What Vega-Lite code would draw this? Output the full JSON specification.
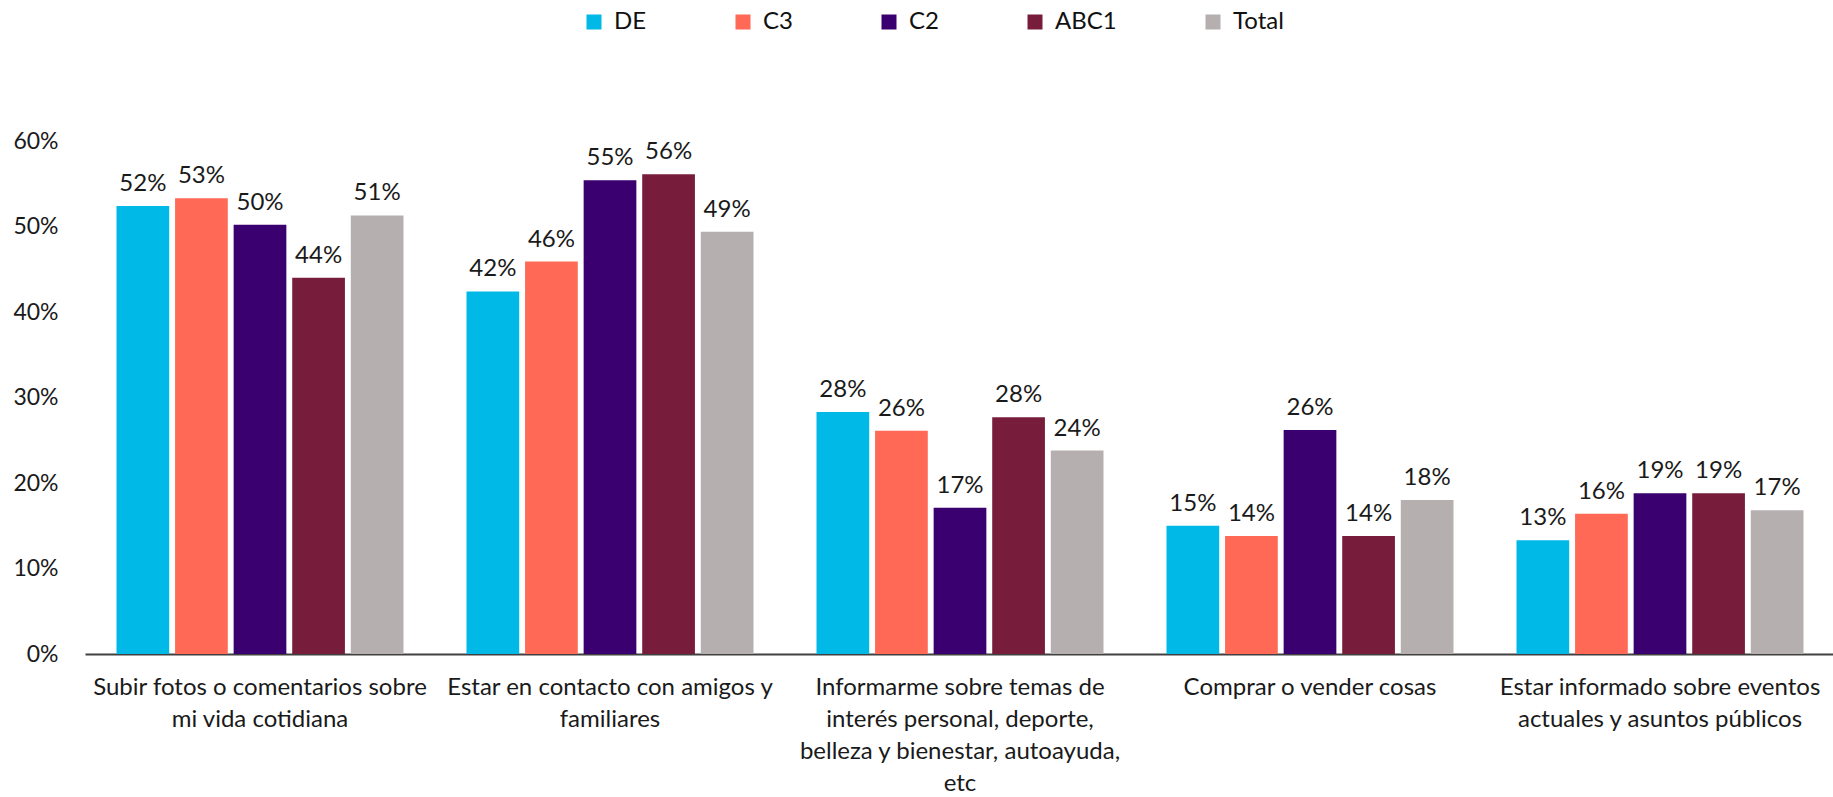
{
  "$schema": "https://vega.github.io/schema/vega-lite/v6.json",
  "width": 1750,
  "height": 513,
  "autosize": {"type": "none"},
  "padding": {"left": 85, "top": 141, "right": 0, "bottom": 143},
  "config": {"view": {"stroke": null}, "font": "Lato"},
  "data": {
    "values": [
      {"cat": "Subir fotos o comentarios sobre\nmi vida cotidiana", "grupo": "DE", "valor": 0.524},
      {"cat": "Subir fotos o comentarios sobre\nmi vida cotidiana", "grupo": "C3", "valor": 0.533},
      {"cat": "Subir fotos o comentarios sobre\nmi vida cotidiana", "grupo": "C2", "valor": 0.502},
      {"cat": "Subir fotos o comentarios sobre\nmi vida cotidiana", "grupo": "ABC1", "valor": 0.440},
      {"cat": "Subir fotos o comentarios sobre\nmi vida cotidiana", "grupo": "Total", "valor": 0.513},
      {"cat": "Estar en contacto con amigos y\nfamiliares", "grupo": "DE", "valor": 0.424},
      {"cat": "Estar en contacto con amigos y\nfamiliares", "grupo": "C3", "valor": 0.459},
      {"cat": "Estar en contacto con amigos y\nfamiliares", "grupo": "C2", "valor": 0.554},
      {"cat": "Estar en contacto con amigos y\nfamiliares", "grupo": "ABC1", "valor": 0.561},
      {"cat": "Estar en contacto con amigos y\nfamiliares", "grupo": "Total", "valor": 0.494},
      {"cat": "Informarme sobre temas de\ninterés personal, deporte,\nbelleza y bienestar, autoayuda,\netc", "grupo": "DE", "valor": 0.283},
      {"cat": "Informarme sobre temas de\ninterés personal, deporte,\nbelleza y bienestar, autoayuda,\netc", "grupo": "C3", "valor": 0.261},
      {"cat": "Informarme sobre temas de\ninterés personal, deporte,\nbelleza y bienestar, autoayuda,\netc", "grupo": "C2", "valor": 0.171},
      {"cat": "Informarme sobre temas de\ninterés personal, deporte,\nbelleza y bienestar, autoayuda,\netc", "grupo": "ABC1", "valor": 0.277},
      {"cat": "Informarme sobre temas de\ninterés personal, deporte,\nbelleza y bienestar, autoayuda,\netc", "grupo": "Total", "valor": 0.238},
      {"cat": "Comprar o vender cosas", "grupo": "DE", "valor": 0.150},
      {"cat": "Comprar o vender cosas", "grupo": "C3", "valor": 0.138},
      {"cat": "Comprar o vender cosas", "grupo": "C2", "valor": 0.262},
      {"cat": "Comprar o vender cosas", "grupo": "ABC1", "valor": 0.138},
      {"cat": "Comprar o vender cosas", "grupo": "Total", "valor": 0.180},
      {"cat": "Estar informado sobre eventos\nactuales y asuntos públicos", "grupo": "DE", "valor": 0.133},
      {"cat": "Estar informado sobre eventos\nactuales y asuntos públicos", "grupo": "C3", "valor": 0.164},
      {"cat": "Estar informado sobre eventos\nactuales y asuntos públicos", "grupo": "C2", "valor": 0.188},
      {"cat": "Estar informado sobre eventos\nactuales y asuntos públicos", "grupo": "ABC1", "valor": 0.188},
      {"cat": "Estar informado sobre eventos\nactuales y asuntos públicos", "grupo": "Total", "valor": 0.168}
    ]
  },
  "encoding": {
    "x": {
      "field": "cat",
      "type": "nominal",
      "sort": null,
      "scale": {"paddingInner": 0.18, "paddingOuter": 0.09},
      "axis": {
        "title": null,
        "labelAngle": 0,
        "ticks": false,
        "domainColor": "#404040",
        "domainWidth": 2,
        "labelFontSize": 24,
        "labelLineHeight": 32,
        "labelPadding": 21,
        "labelBaseline": "top",
        "labelAlign": "center",
        "labelColor": "#1a1a1a",
        "labelExpr": "split(datum.label, '\\n')",
        "labelOverlap": false,
        "labelBound": false,
        "labelLimit": 500
      }
    },
    "xOffset": {
      "field": "grupo",
      "type": "nominal",
      "sort": ["DE", "C3", "C2", "ABC1", "Total"],
      "scale": {"paddingInner": 0.1, "paddingOuter": 0}
    },
    "y": {
      "field": "valor",
      "type": "quantitative",
      "scale": {"domain": [0, 0.6]},
      "axis": {
        "title": null,
        "format": ".0%",
        "values": [0, 0.1, 0.2, 0.3, 0.4, 0.5, 0.6],
        "grid": false,
        "domain": false,
        "ticks": false,
        "labelFontSize": 23,
        "labelPadding": 27,
        "labelColor": "#1a1a1a"
      }
    }
  },
  "layer": [
    {
      "mark": {"type": "bar"},
      "encoding": {
        "color": {
          "field": "grupo",
          "type": "nominal",
          "sort": ["DE", "C3", "C2", "ABC1", "Total"],
          "scale": {
            "domain": ["DE", "C3", "C2", "ABC1", "Total"],
            "range": ["#00B9E6", "#FF6955", "#3A0070", "#771D3B", "#B5AFB0"]
          },
          "legend": {
            "title": null,
            "orient": "none",
            "legendX": 497,
            "legendY": -131,
            "direction": "horizontal",
            "symbolType": "square",
            "symbolSize": 225,
            "symbolStrokeWidth": 0,
            "labelFontSize": 24,
            "labelOffset": 8,
            "labelColor": "#111111",
            "columnPadding": 84
          }
        }
      }
    },
    {
      "mark": {"type": "text", "dy": -15, "baseline": "alphabetic", "fontSize": 24, "color": "#1a1a1a"},
      "encoding": {
        "text": {"field": "valor", "type": "quantitative", "format": ".0%"}
      }
    }
  ]
}
